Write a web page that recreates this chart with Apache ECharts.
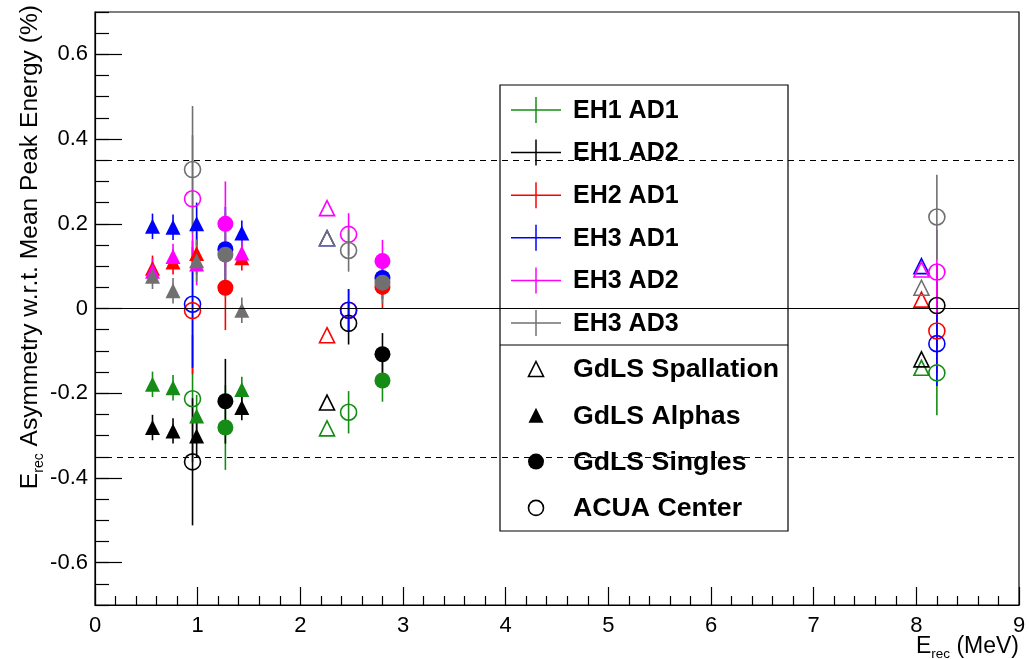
<!DOCTYPE html>
<html>
<head>
<meta charset="utf-8">
<title>Erec asymmetry</title>
<script src="https://cdn.jsdelivr.net/npm/echarts@6/dist/echarts.min.js"></script>
<style>
  html, body { margin: 0; padding: 0; background: #fff; }
  #chart { width: 1029px; height: 659px; }
</style>
</head>
<body>
<div id="chart"></div>
<script>
// Detectors, in drawing order
const detectors = ['EH1 AD1', 'EH1 AD2', 'EH2 AD1', 'EH3 AD1', 'EH3 AD2', 'EH3 AD3'];

// GdLS spallation peaks (nH, nGd); uncertainties are below marker size
const spallationEnergy = [2.26, 8.05];
const spallationErr = [0, 0];
const spallationAsym = [
  [-0.283, -0.140],
  [-0.222, -0.120],
  [-0.063, 0.021],
  [0.166, 0.100],
  [0.237, 0.092],
  [0.166, 0.049]
];

// GdLS alpha peaks
const alphaEnergy = [0.56, 0.76, 0.99, 1.43];
const alphaErr = [0.03, 0.03, 0.05, 0.03];
const alphaAsym = [
  [-0.179, -0.187, -0.254, -0.191],
  [-0.281, -0.289, -0.301, -0.234],
  [0.095, 0.110, 0.130, 0.120],
  [0.194, 0.192, 0.200, 0.178],
  [0.088, 0.123, 0.105, 0.131],
  [0.076, 0.042, 0.113, -0.004]
];

// GdLS singles peaks
const singlesEnergy = [1.27, 2.80];
const singlesErr = [0.10, 0.05];
const singlesAsym = [
  [-0.281, -0.170],
  [-0.219, -0.108],
  [0.049, 0.051],
  [0.140, 0.072],
  [0.200, 0.112],
  [0.127, 0.061]
];

// ACU-A sources deployed at the detector center
const acuaEnergy = [0.95, 2.47, 8.20];
const acuaErr = [0.15, 0.05, 0.10];
const acuaAsym = [
  [-0.213, -0.245, -0.152],
  [-0.362, -0.035, 0.007],
  [-0.005, -0.004, -0.053],
  [0.010, -0.004, -0.083],
  [0.259, 0.175, 0.086],
  [0.328, 0.137, 0.216]
];

// Axis ticks and reference lines
const yTickValues = [-0.6, -0.4, -0.2, 0, 0.2, 0.4, 0.6];
const bandLimit = [0.35, -0.35];
const zeroLine = [0];

// Styling
const detectorColors = ['#158c15', '#000000', '#ff0000', '#0000ff', '#ff00ff', '#707070'];
const FONT = 'Liberation Sans, Arial, Helvetica, sans-serif';

const sources = [
  { name: 'GdLS Spallation', energy: spallationEnergy, err: spallationErr, asym: spallationAsym, symbol: 'triangle', open: true, size: 15 },
  { name: 'GdLS Alphas', energy: alphaEnergy, err: alphaErr, asym: alphaAsym, symbol: 'triangle', open: false, size: 15 },
  { name: 'GdLS Singles', energy: singlesEnergy, err: singlesErr, asym: singlesAsym, symbol: 'circle', open: false, size: 16 },
  { name: 'ACUA Center', energy: acuaEnergy, err: acuaErr, asym: acuaAsym, symbol: 'circle', open: true, size: 16 }
];

const series = [];

// reference lines: zero and +-0.35 band
series.push({
  type: 'scatter',
  data: [],
  silent: true,
  markLine: {
    silent: true,
    symbol: 'none',
    animation: false,
    label: { show: false },
    lineStyle: { color: '#000', width: 1 },
    data: zeroLine.map(v => ({ yAxis: v, lineStyle: { type: 'solid', color: '#000', width: 1.2 } }))
      .concat(bandLimit.map(v => ({ yAxis: v, lineStyle: { type: [6, 5], color: '#000', width: 1.2 } })))
  }
});

sources.forEach(src => {
  detectors.forEach((det, d) => {
    const color = detectorColors[d];
    const data = src.energy.map((e, i) => [e, src.asym[d][i], src.err[i]]);
    // vertical error bars
    series.push({
      type: 'custom',
      name: det,
      silent: true,
      data: data,
      encode: { x: 0, y: 1 },
      renderItem: (params, api) => {
        const x = api.value(0), y = api.value(1), e = api.value(2);
        if (!(e > 0)) return null;
        const lo = api.coord([x, y - e]);
        const hi = api.coord([x, y + e]);
        return {
          type: 'line',
          shape: { x1: lo[0], y1: lo[1], x2: hi[0], y2: hi[1] },
          style: { stroke: color, lineWidth: 1.6 }
        };
      }
    });
    // markers
    series.push({
      type: 'scatter',
      name: det,
      silent: true,
      data: data,
      symbol: src.symbol,
      symbolSize: src.size,
      itemStyle: src.open
        ? { color: 'rgba(0,0,0,0)', borderColor: color, borderWidth: 1.6, opacity: 1 }
        : { color: color, borderWidth: 0, opacity: 1 }
    });
  });
});

// Legend box, drawn as graphic elements
const legendX = 500, legendY = 85, legendW = 288, legendH = 446;
const legendEls = [
  { type: 'rect', shape: { x: legendX, y: legendY, width: legendW, height: legendH },
    style: { fill: '#fff', stroke: '#000', lineWidth: 1.2 } },
  { type: 'line', shape: { x1: legendX, y1: 345, x2: legendX + legendW, y2: 345 },
    style: { stroke: '#000', lineWidth: 1.2 } }
];
detectors.forEach((det, d) => {
  const y = 110 + d * 42.6;
  const c = detectorColors[d];
  legendEls.push(
    { type: 'line', shape: { x1: 511, y1: y, x2: 561, y2: y }, style: { stroke: c, lineWidth: 1.5 } },
    { type: 'line', shape: { x1: 536, y1: y - 13, x2: 536, y2: y + 13 }, style: { stroke: c, lineWidth: 1.5 } },
    { type: 'text', x: 573, y: y + 1, style: { text: det, font: 'bold 25px ' + FONT, fill: '#000', verticalAlign: 'middle', align: 'left' } }
  );
});
sources.forEach((src, s) => {
  const y = 369 + s * 46.3;
  if (src.symbol === 'triangle') {
    legendEls.push({ type: 'polygon', shape: { points: [[536, y - 7.5], [543.5, y + 7.5], [528.5, y + 7.5]] },
      style: src.open ? { fill: 'none', stroke: '#000', lineWidth: 1.6 } : { fill: '#000' } });
  } else {
    legendEls.push({ type: 'circle', shape: { cx: 536, cy: y, r: src.open ? 7.5 : 8 },
      style: src.open ? { fill: 'none', stroke: '#000', lineWidth: 1.6 } : { fill: '#000' } });
  }
  legendEls.push({ type: 'text', x: 573, y: y + 1,
    style: { text: src.name, font: 'bold 26.7px ' + FONT, fill: '#000', verticalAlign: 'middle', align: 'left' } });
});

// Axis titles with subscripts
const yTitle = {
  type: 'text',
  x: 30, y: 5,
  rotation: Math.PI / 2,
  style: {
    text: '{n|E}{s|rec}{n| Asymmetry w.r.t. Mean Peak Energy (%)}',
    align: 'right',
    verticalAlign: 'middle',
    rich: {
      n: { fontSize: 24.6, fontFamily: FONT, fill: '#000', lineHeight: 32, verticalAlign: 'middle' },
      s: { fontSize: 14, fontFamily: FONT, fill: '#000', lineHeight: 14, verticalAlign: 'bottom' }
    }
  }
};
const xTitle = {
  type: 'text',
  x: 1019, y: 647,
  style: {
    text: '{n|E}{s|rec}{n| (MeV)}',
    align: 'right',
    verticalAlign: 'middle',
    rich: {
      n: { fontSize: 23, fontFamily: FONT, fill: '#000', lineHeight: 28, verticalAlign: 'middle' },
      s: { fontSize: 13.5, fontFamily: FONT, fill: '#000', lineHeight: 13, verticalAlign: 'bottom' }
    }
  }
};

const chart = echarts.init(document.getElementById('chart'), null, { renderer: 'canvas' });
chart.setOption({
  animation: false,
  backgroundColor: '#fff',
  grid: {
    left: 95, right: 10, top: 12, bottom: 54,
    outerBoundsMode: 'none', containLabel: false,
    show: true, borderColor: '#000', borderWidth: 1.2, backgroundColor: 'rgba(0,0,0,0)'
  },
  xAxis: {
    type: 'value', min: 0, max: 9, interval: 1,
    axisLine: { show: true, onZero: false, lineStyle: { color: '#000', width: 1.2 } },
    axisTick: { show: true, inside: true, length: 18, lineStyle: { color: '#000', width: 1.2 } },
    minorTick: { show: true, splitNumber: 5, length: 9, lineStyle: { color: '#000', width: 1.2 } },
    splitLine: { show: false },
    axisLabel: { color: '#000', fontSize: 22, fontFamily: FONT, margin: 10 }
  },
  yAxis: [
    {
      type: 'value', min: -0.7, max: 0.7,
      axisLine: { show: true, onZero: false, lineStyle: { color: '#000', width: 1.2 } },
      axisTick: { show: true, inside: true, length: 27, customValues: yTickValues, lineStyle: { color: '#000', width: 1.2 } },
      splitLine: { show: false },
      axisLabel: {
        color: '#000', fontSize: 22, fontFamily: FONT, margin: 7,
        customValues: yTickValues,
        formatter: v => (Math.abs(v) < 1e-9 ? '0' : v.toFixed(1))
      }
    },
    {
      type: 'value', min: -0.7, max: 0.7, interval: 0.05, position: 'left',
      axisLine: { show: false, onZero: false },
      axisTick: { show: true, inside: true, length: 14, lineStyle: { color: '#000', width: 1.2 } },
      axisLabel: { show: false },
      splitLine: { show: false }
    }
  ],
  graphic: { elements: [yTitle, xTitle, { type: 'group', z: 100, children: legendEls }] },
  series: series
});
</script>
</body>
</html>
